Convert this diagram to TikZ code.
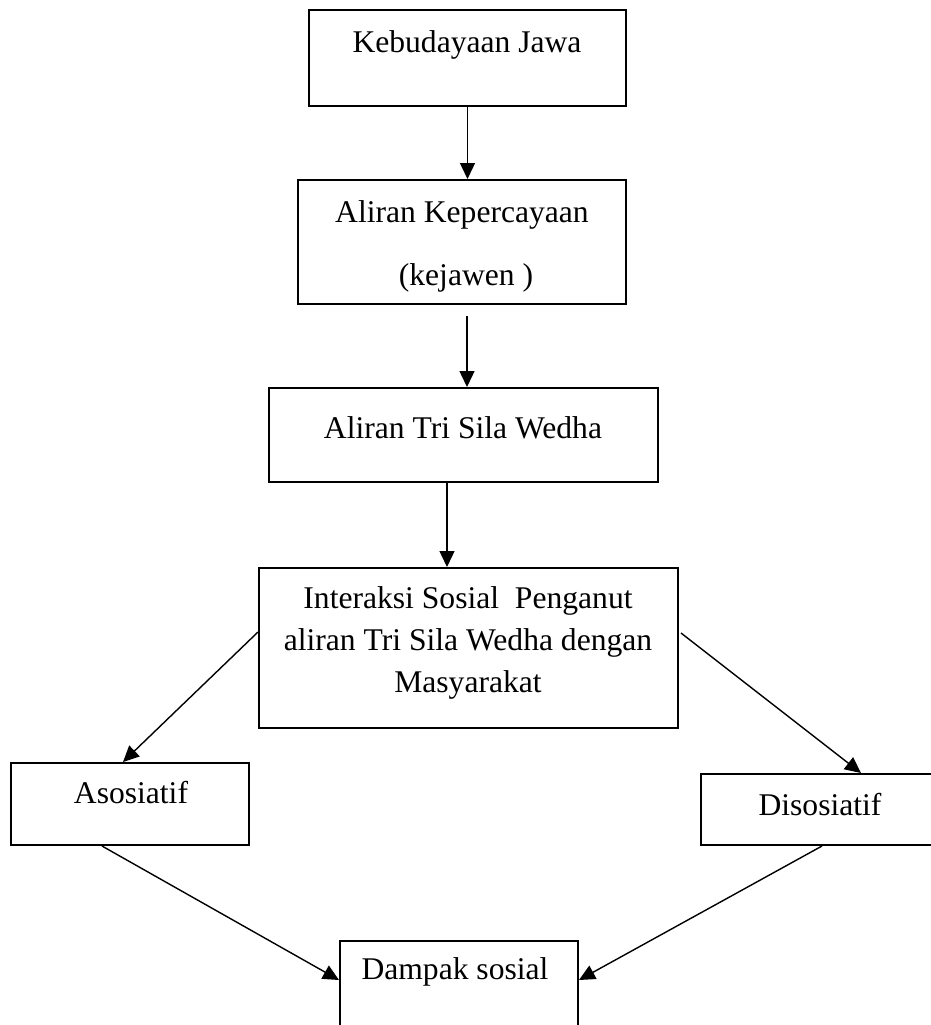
\documentclass[tikz,border=0pt]{standalone}
\usepackage{fontspec}
\setmainfont{Liberation Serif}
\usetikzlibrary{arrows.meta,calc}
\begin{document}
\begin{tikzpicture}[x=0.5pt,y=-0.5pt,
  box/.style={draw,line width=1pt,rectangle,inner sep=0pt},
  txt/.style={inner sep=0pt,font=\fontsize{15.8}{20.8}\selectfont,align=center},
  arr/.style={line width=0.7pt,-{Triangle[length=8pt,width=7.5pt]}}]
\useasboundingbox (0,0) rectangle (931,1025);
\clip (0,0) rectangle (931,1025);
% boxes
\node[box,minimum width=158.5pt,minimum height=48pt] (k) at (467.5,58) {};
\node[box,minimum width=164pt,minimum height=62pt] (a) at (462,242) {};
\node[box,minimum width=194.5pt,minimum height=47pt] (t) at (463.5,435) {};
\node[box,minimum width=209.5pt,minimum height=80pt] (i) at (468.5,648) {};
\node[box,minimum width=119pt,minimum height=41pt] (as) at (130,804) {};
\node[box,minimum width=118pt,minimum height=35.5pt] (ds) at (819,809.5) {};
\node[box,minimum width=119pt,minimum height=60pt] (dp) at (459,1001) {};
% texts
\node[txt] (kt) at (467,45) {Kebudayaan Jawa};
\node[txt] (at1) at (462,215) {Aliran Kepercayaan};
\node[txt] (at2) at (466,278) {(kejawen )};
\node[txt] (tt) at (463,428) {Aliran Tri Sila Wedha};
\node[txt] (it) at (468,643) {Interaksi Sosial\ \ Penganut\\aliran Tri Sila Wedha dengan\\Masyarakat};
\node[txt] (ast) at (131,793) {Asosiatif};
\node[txt] (dst) at (820,805) {Disosiatif};
\node[txt] (dpt) at (455,972) {Dampak sosial};
% connector points
\coordinate (c2) at (467,316);
\coordinate (c3) at (447,0);
\coordinate (l1) at (258,632);
\coordinate (l2) at (123,0);
\coordinate (r1) at (681,633);
\coordinate (r2) at (861,0);
\coordinate (b1) at (102,0);
\coordinate (b2) at (822,0);
\coordinate (be) at (0,980);
% connectors
\draw[arr] (k.south) -- (k.south |- a.north);
\draw[arr] (c2) -- (c2 |- t.north);
\draw[arr] (c3 |- t.south) -- (c3 |- i.north);
\draw[arr] (l1) -- (l2 |- as.north);
\draw[arr] (r1) -- (r2 |- ds.north);
\draw[arr] (b1 |- as.south) -- (dp.west |- be);
\draw[arr] (b2 |- ds.south) -- (dp.east |- be);
\end{tikzpicture}
\end{document}
